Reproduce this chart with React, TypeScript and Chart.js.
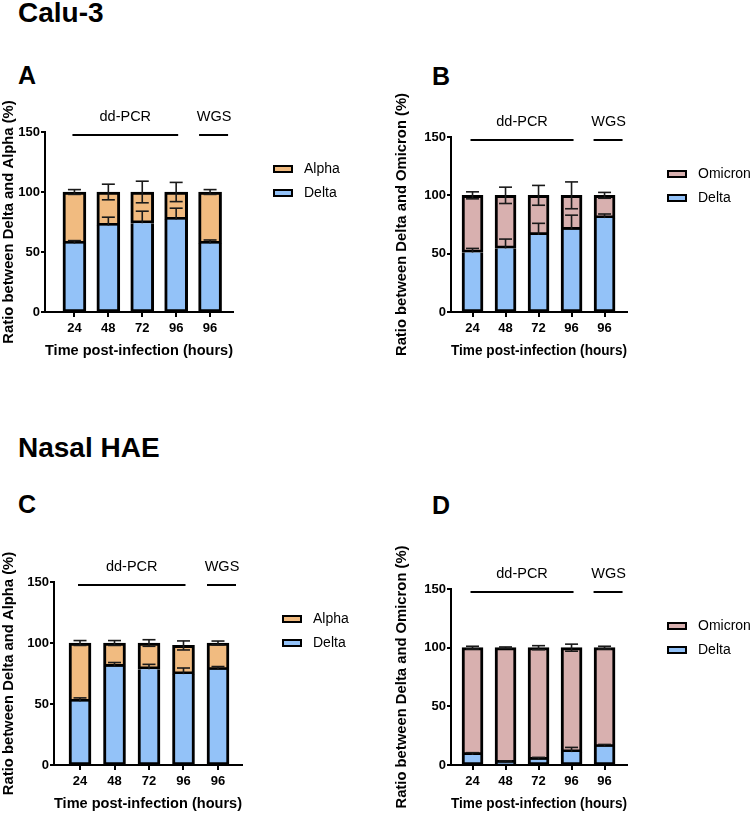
import React, { useEffect, useRef } from 'react';
import { Chart, registerables } from 'chart.js';

Chart.register(...registerables);

// ---------- data ----------
const timeLabels = ['24', '48', '72', '96', '96'];
const methodLabels = ['dd-PCR', 'WGS'];

// Panel A: Calu-3, Delta vs Alpha
const caluAlphaDelta = [57, 72, 74, 77, 57];
const caluAlphaDeltaSD = [2.5, 7, 10, 9.5, 3];
const caluAlpha = [43, 28, 26, 23, 43];
const caluAlphaSD = [2, 6.5, 9, 8, 2];

// Panel B: Calu-3, Delta vs Omicron
const caluOmicronDelta = [51, 54.5, 66, 70.5, 80.5];
const caluOmicronDeltaSD = [3.5, 8, 10, 12.5, 3.5];
const caluOmicron = [49, 45.5, 34, 29.5, 19.5];
const caluOmicronSD = [3, 7, 8.5, 11.5, 2.5];

// Panel C: Nasal HAE, Delta vs Alpha
const nasalAlphaDelta = [52, 80.5, 78.5, 74.5, 78];
const nasalAlphaDeltaSD = [3, 3.5, 4, 5, 2.7];
const nasalAlpha = [48, 19.5, 21.5, 23.5, 22];
const nasalAlphaSD = [2, 2, 2.7, 3.7, 1.6];

// Panel D: Nasal HAE, Delta vs Omicron
const nasalOmicronDelta = [8.5, 2, 4.5, 11, 15.5];
const nasalOmicronDeltaSD = [2, 1.5, 2, 4, 2];
const nasalOmicron = [91.5, 98, 95.5, 89, 84.5];
const nasalOmicronSD = [1.2, 0.6, 1.7, 3, 1.2];

// ---------- styles ----------
const FONT = '"Liberation Sans", Arial, Helvetica, sans-serif';
const DELTA_COLOR = '#93C2F8';
const ALPHA_COLOR = '#F1BB80';
const OMICRON_COLOR = '#D8B0AF';

Chart.defaults.font.family = FONT;
Chart.defaults.color = '#000';

type PanelCfg = {
  left: number; top: number; width: number; height: number;
  pad: { top: number; right: number; bottom: number; left: number };
  yWidth: number; xMin: number; xMax: number; barThickness: number;
  delta: number[]; deltaSD: number[]; other: number[]; otherSD: number[];
  otherName: string; otherColor: string;
};

const panels: PanelCfg[] = [
  {
    left: 0, top: 85, width: 360, height: 280,
    pad: { top: 47, right: 127, bottom: 5, left: 0 },
    yWidth: 45, xMin: -0.868, xMax: 4.676, barThickness: 23,
    delta: caluAlphaDelta, deltaSD: caluAlphaDeltaSD, other: caluAlpha, otherSD: caluAlphaSD,
    otherName: 'Alpha', otherColor: ALPHA_COLOR,
  },
  {
    left: 393, top: 85, width: 357, height: 280,
    pad: { top: 52, right: 123, bottom: 5, left: 0 },
    yWidth: 58, xMin: -0.652, xMax: 4.68, barThickness: 21,
    delta: caluOmicronDelta, deltaSD: caluOmicronDeltaSD, other: caluOmicron, otherSD: caluOmicronSD,
    otherName: 'Omicron', otherColor: OMICRON_COLOR,
  },
  {
    left: 0, top: 530, width: 360, height: 284,
    pad: { top: 52, right: 118, bottom: 1, left: 0 },
    yWidth: 54, xMin: -0.754, xMax: 4.696, barThickness: 22,
    delta: nasalAlphaDelta, deltaSD: nasalAlphaDeltaSD, other: nasalAlpha, otherSD: nasalAlphaSD,
    otherName: 'Alpha', otherColor: ALPHA_COLOR,
  },
  {
    left: 393, top: 530, width: 357, height: 284,
    pad: { top: 59, right: 123, bottom: 1, left: 0 },
    yWidth: 58, xMin: -0.652, xMax: 4.68, barThickness: 21,
    delta: nasalOmicronDelta, deltaSD: nasalOmicronDeltaSD, other: nasalOmicron, otherSD: nasalOmicronSD,
    otherName: 'Omicron', otherColor: OMICRON_COLOR,
  },
];

function decorPlugin(cfg: PanelCfg) {
  return {
    id: 'decor',
    afterDatasetsDraw(chart: any) {
      const ctx = chart.ctx;
      const xs = chart.scales.x;
      const ys = chart.scales.y;
      const area = chart.chartArea;
      ctx.save();
      // error bars
      ctx.strokeStyle = '#1a1a1a';
      ctx.lineWidth = 1.6;
      const cap = 6.5;
      const seg = (x1: number, y1: number, x2: number, y2: number) => {
        ctx.beginPath(); ctx.moveTo(x1, y1); ctx.lineTo(x2, y2); ctx.stroke();
      };
      cfg.delta.forEach((d, i) => {
        const px = xs.getPixelForValue(i);
        const yTop = ys.getPixelForValue(d + cfg.deltaSD[i]);
        seg(px, ys.getPixelForValue(d), px, yTop);
        seg(px - cap, yTop, px + cap, yTop);
        const total = d + cfg.other[i];
        const sd = cfg.otherSD[i];
        const yHi = ys.getPixelForValue(total + sd);
        const yLo = ys.getPixelForValue(total - sd);
        seg(px, yLo, px, yHi);
        seg(px - cap, yHi, px + cap, yHi);
        seg(px - cap, yLo, px + cap, yLo);
      });
      // method annotations
      const lineY = ys.getPixelForValue(150) + 3;
      ctx.strokeStyle = '#000';
      ctx.lineWidth = 2;
      const ddL = xs.getPixelForValue(0) - 2;
      const ddR = xs.getPixelForValue(3) + 2;
      seg(ddL, lineY, ddR, lineY);
      const wL = xs.getPixelForValue(4) - 11;
      const wR = xs.getPixelForValue(4) + 18;
      seg(wL, lineY, wR, lineY);
      ctx.fillStyle = '#000';
      ctx.font = `14.5px ${FONT}`;
      ctx.textAlign = 'center';
      ctx.textBaseline = 'middle';
      ctx.fillText(methodLabels[0], (ddL + ddR) / 2, lineY - 18);
      ctx.fillText(methodLabels[1], xs.getPixelForValue(4) + 4, lineY - 18);
      // legend
      const items = [
        { name: cfg.otherName, color: cfg.otherColor },
        { name: 'Delta', color: DELTA_COLOR },
      ];
      const bx = area.right + 40;
      ctx.font = `14px ${FONT}`;
      ctx.textAlign = 'left';
      items.forEach((it, k) => {
        const cy = area.top + 37 + k * 24;
        ctx.fillStyle = '#000';
        ctx.fillRect(bx, cy - 4, 20, 8);
        ctx.fillStyle = it.color;
        ctx.fillRect(bx + 2, cy - 2, 16, 4);
        ctx.fillStyle = '#000';
        ctx.fillText(it.name, bx + 31, cy);
      });
      ctx.restore();
    },
  };
}

function Panel({ cfg }: { cfg: PanelCfg }) {
  const ref = useRef<HTMLCanvasElement>(null);
  useEffect(() => {
    const yTitle = `Ratio between Delta and ${cfg.otherName} (%)`;
    const chart = new Chart(ref.current as HTMLCanvasElement, {
      type: 'bar',
      data: {
        datasets: [
          {
            label: 'Delta',
            data: cfg.delta.map((v, i) => ({ x: i, y: v })),
            backgroundColor: DELTA_COLOR,
            borderColor: '#000',
            borderWidth: { top: 0, right: 3, bottom: 2, left: 3 },
            borderSkipped: false,
            barThickness: cfg.barThickness,
          },
          {
            label: cfg.otherName,
            data: cfg.other.map((v, i) => ({ x: i, y: v })),
            backgroundColor: cfg.otherColor,
            borderColor: '#000',
            borderWidth: { top: 3, right: 3, bottom: 3, left: 3 },
            borderSkipped: false,
            barThickness: cfg.barThickness,
          },
        ],
      } as any,
      options: {
        responsive: false,
        animation: false,
        devicePixelRatio: 1,
        layout: { padding: cfg.pad },
        plugins: { legend: { display: false }, tooltip: { enabled: false } },
        scales: {
          x: {
            type: 'linear',
            stacked: true,
            offset: false,
            min: cfg.xMin,
            max: cfg.xMax,
            afterBuildTicks: (axis: any) => {
              axis.ticks = timeLabels.map((_, i) => ({ value: i }));
            },
            afterFit: (s: any) => { s.height = 48; },
            ticks: {
              autoSkip: false,
              maxRotation: 0,
              padding: 4,
              color: '#000',
              font: { size: 13, weight: 'bold' },
              callback: (v: any) => timeLabels[Math.round(Number(v))] ?? '',
            },
            grid: { offset: false, drawOnChartArea: false, drawTicks: true, tickLength: 5, color: '#000', lineWidth: 2 },
            border: { display: true, color: '#000', width: 2 },
            title: {
              display: true,
              text: 'Time post-infection (hours)',
              color: '#000',
              font: { size: 14.8, weight: 'bold' },
              padding: 0,
            },
          },
          y: {
            stacked: true,
            min: 0,
            max: 150,
            afterFit: (s: any) => { s.width = cfg.yWidth; },
            ticks: {
              stepSize: 50,
              padding: 1,
              color: '#000',
              font: { size: 13, weight: 'bold' },
            },
            grid: { drawOnChartArea: false, drawTicks: true, tickLength: 4, color: '#000', lineWidth: 2 },
            border: { display: true, color: '#000', width: 2 },
            title: {
              display: true,
              text: yTitle,
              color: '#000',
              font: { size: 14.8, weight: 'bold' },
              padding: 0,
            },
          },
        },
      } as any,
      plugins: [decorPlugin(cfg)],
    });
    return () => chart.destroy();
  }, []);
  return (
    <canvas
      ref={ref}
      width={cfg.width}
      height={cfg.height}
      style={{ position: 'absolute', left: cfg.left, top: cfg.top, width: cfg.width, height: cfg.height }}
    />
  );
}

function Label({ text, x, baseline, size }: { text: string; x: number; baseline: number; size: number }) {
  const top = baseline - size * 0.8465;
  return (
    <div
      style={{
        position: 'absolute', left: x, top, fontFamily: FONT, fontWeight: 'bold',
        fontSize: size, lineHeight: `${size}px`, color: '#000', whiteSpace: 'nowrap',
      }}
    >
      {text}
    </div>
  );
}

export default function App() {
  return (
    <div style={{ position: 'absolute', left: 0, top: 0, width: 750, height: 814, background: '#fff', overflow: 'hidden' }}>
      <Label text="Calu-3" x={18} baseline={23} size={28} />
      <Label text="A" x={18} baseline={84} size={25} />
      <Label text="B" x={432} baseline={85} size={25} />
      <Label text="Nasal HAE" x={18} baseline={458} size={28} />
      <Label text="C" x={18} baseline={513} size={25} />
      <Label text="D" x={432} baseline={514} size={25} />
      {panels.map((p, i) => <Panel key={i} cfg={p} />)}
    </div>
  );
}
